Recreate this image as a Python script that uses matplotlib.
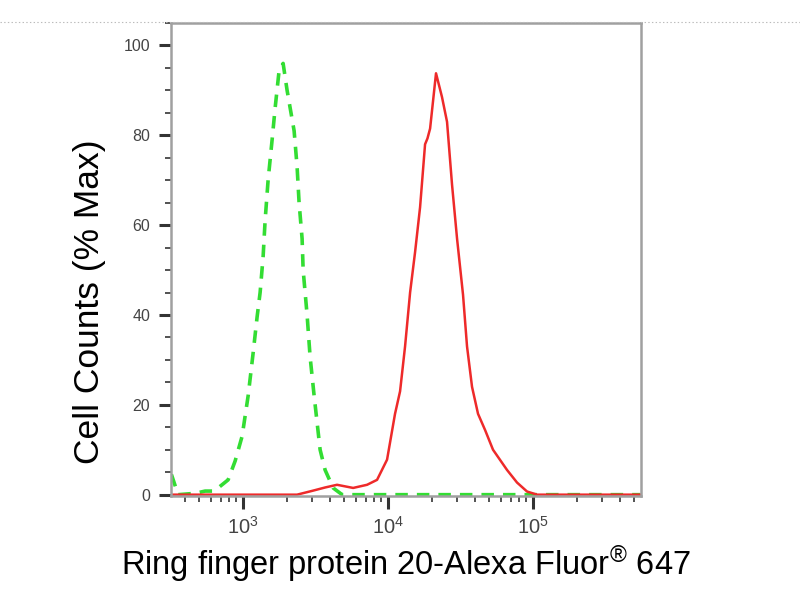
import matplotlib
matplotlib.use("Agg")
import matplotlib.pyplot as plt
from matplotlib.lines import Line2D
from matplotlib.ticker import LogLocator, MultipleLocator, NullFormatter

plt.rcParams['font.family'] = ['Liberation Sans', 'DejaVu Sans']
plt.rcParams['mathtext.fontset'] = 'custom'
plt.rcParams['mathtext.rm'] = 'Liberation Sans'
plt.rcParams['mathtext.it'] = 'Liberation Sans'
plt.rcParams['lines.scale_dashes'] = False

# control (green, dashed)
ctrl_x = [320, 324, 356, 467, 547, 611, 672, 788, 881, 984, 1083, 1172, 1249,
          1310, 1374, 1418, 1487, 1585, 1662, 1771, 1888, 2011, 2248, 2357,
          2433, 2552, 2595, 2763, 2898, 3090, 3398, 3678, 4178, 4820, 95000, 550000]
ctrl_y = [4.5, 4, 0, 0.3, 0.8, 0.8, 1.5, 3.3, 7.5, 13, 22, 31.5, 39.6,
          45, 53, 61, 70, 79, 86, 94.4, 96, 90, 81, 73,
          65, 57, 50, 40, 30.7, 22, 10, 5.5, 1.5, 0, 0, 0]

# sample (red, solid)
samp_x = [320, 2355, 3040, 3678, 4446, 5742, 7163, 8397, 9843, 11170, 12100,
          13100, 14190, 15360, 16630, 18000, 18700, 19500, 21420, 23560, 25520,
          27630, 29920, 32900, 35060, 37960, 41750, 46690, 52980, 66190, 77580,
          90960, 106700, 550000]
samp_y = [0, 0, 0.9, 1.6, 2.2, 1.5, 2.2, 3.3, 7.8, 18, 23,
          33, 45, 54, 64, 78, 79.3, 81.5, 93.8, 88.5, 83,
          69, 57, 44.5, 33, 24, 18, 14.4, 10, 5.5, 2.7,
          0.7, 0, 0]

y_ticks = [0, 20, 40, 60, 80, 100]

fig = plt.figure(figsize=(8, 6), dpi=100)
ax = fig.add_axes([0.21375, 0.1733, 0.5875, 0.7884])

ax.plot(ctrl_x, ctrl_y, color='#33dd33', lw=2.6, dashes=(9, 6.5))
ax.plot(samp_x, samp_y, color='#ee2a2a', lw=1.8)

ax.set_xscale('log')
ax.set_xlim(318, 556000)
ax.set_ylim(-0.3, 105)
ax.xaxis.set_major_locator(LogLocator(base=10, numticks=10))
ax.xaxis.set_minor_locator(LogLocator(base=10, subs=range(2, 10), numticks=50))
ax.xaxis.set_minor_formatter(NullFormatter())
ax.set_yticks(y_ticks)
ax.yaxis.set_minor_locator(MultipleLocator(5))

for s in ax.spines.values():
    s.set_color('#a0a0a0')
    s.set_linewidth(1.8)

ax.tick_params(which='major', direction='out', length=9, width=2.2,
               color='#333333', labelcolor='#444444', labelsize=11.5, pad=6,
               top=False, right=False)
ax.tick_params(axis='x', which='major', labelsize=14.5, pad=5)
ax.tick_params(which='minor', direction='out', length=4, width=1.3,
               color='#444444', top=False, right=False)

ax.set_ylabel('Cell Counts (% Max)', fontsize=25.5)
ax.yaxis.set_label_coords(-0.139, 0.41)
ax.set_xlabel('Ring finger protein 20-Alexa Fluor$^{\u00ae}$ 647', fontsize=23.5, labelpad=4)

# faint dotted line across the top
fig.add_artist(Line2D([0, 1], [0.963, 0.963], transform=fig.transFigure,
                      color='#bbbbbb', lw=0.8, ls=':'))

fig.savefig('out.png', dpi=100)
